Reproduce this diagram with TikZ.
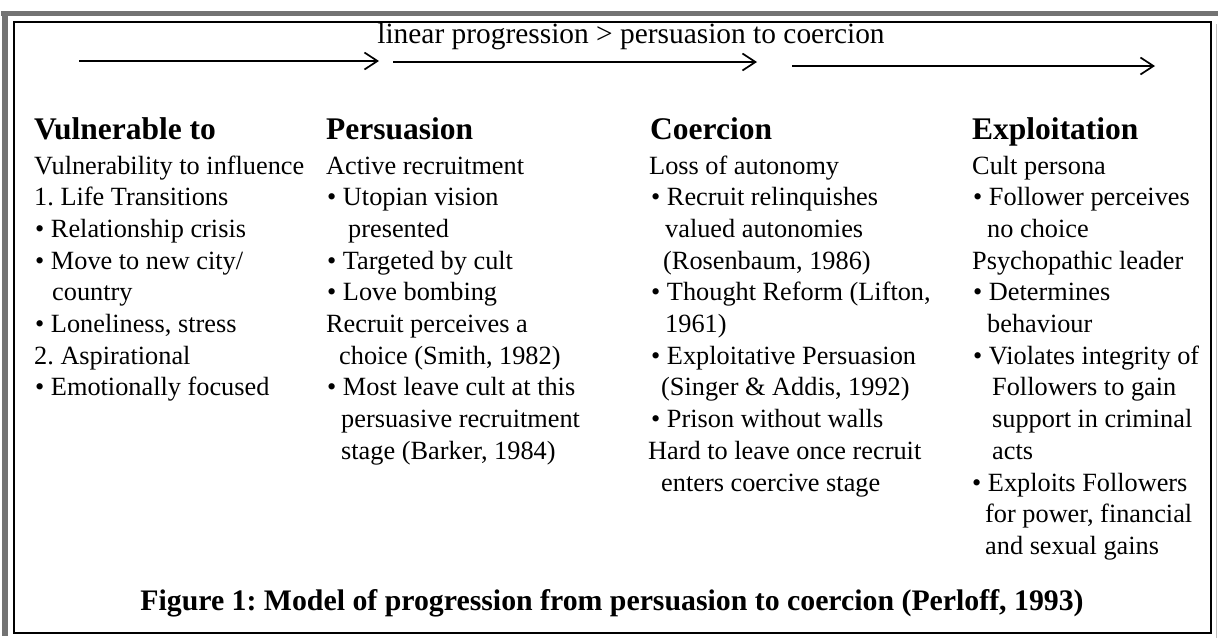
\documentclass[tikz,border=0pt]{standalone}
\usepackage{fontspec}
\setmainfont{Liberation Serif}
\usetikzlibrary{arrows.meta}
\frenchspacing
\begin{document}
\begin{tikzpicture}[x=1pt,y=-1pt,
  body/.style={anchor=base west, inner sep=0pt, font=\fontsize{26.3}{31.7}\selectfont},
  head/.style={anchor=base west, inner sep=0pt, font=\bfseries\fontsize{31.5}{36}\selectfont},
  titletext/.style={anchor=base, inner sep=0pt, font=\fontsize{29.4}{34}\selectfont},
  captiontext/.style={anchor=base, inner sep=0pt, font=\bfseries\fontsize{29.8}{34}\selectfont},
  flow/.style={line width=2pt, -{Straight Barb[length=13pt,width=17pt,line width=1.7pt]}},
  shadowband/.style={fill=black!55},
  framebox/.style={draw=black, line width=1.6pt}]
\useasboundingbox (0,0) rectangle (1218,638);
% frame
\fill[shadowband] (1,11) rectangle (1218,16);
\fill[shadowband] (2,11) rectangle (8,636);
\draw[black!25, line width=1pt] (1216,24) -- (1216,638);
\draw[framebox] (14,22) rectangle (1211,633);
% title and arrows
\node[titletext] (title) at (631,43) {linear progression > persuasion to coercion};
\coordinate (a1s) at (79,61);  \coordinate (a1e) at (379,61);
\coordinate (a2s) at (393,62); \coordinate (a2e) at (757,62);
\coordinate (a3s) at (792,66); \coordinate (a3e) at (1155,66);
\draw[flow] (a1s) -- (a1e);
\draw[flow] (a2s) -- (a2e);
\draw[flow] (a3s) -- (a3e);
% headings
\node[head] (h1) at (34,139) {Vulnerable to};
\node[head] (h2) at (326,139) {Persuasion};
\node[head] (h3) at (650,139) {Coercion};
\node[head] (h4) at (972,139) {Exploitation};
% column 1
\foreach \dx/\t [count=\i] in {0/{Vulnerability to influence}, 0/{1. Life Transitions},
  1/{• Relationship crisis}, 1/{• Move to new city/}, 18/{country},
  1/{• Loneliness, stress}, 0/{2. Aspirational}, 1/{• Emotionally focused}}
  \node[body] (c1-\i) at ({34+\dx},{174+31.7*(\i-1)}) {\t};
% column 2
\foreach \dx/\t [count=\i] in {0/{Active recruitment}, 1/{• Utopian vision},
  22/{presented}, 1/{• Targeted by cult}, 1/{• Love bombing},
  0/{Recruit perceives a}, 13/{choice (Smith, 1982)}, 1/{• Most leave cult at this},
  15/{persuasive recruitment}, 15/{stage (Barker, 1984)}}
  \node[body] (c2-\i) at ({326+\dx},{174+31.7*(\i-1)}) {\t};
% column 3
\foreach \dx/\t [count=\i] in {0/{Loss of autonomy}, 2/{• Recruit relinquishes},
  16/{valued autonomies}, 14/{(Rosenbaum, 1986)}, 2/{• Thought Reform (Lifton,},
  16/{1961)}, 2/{• Exploitative Persuasion}, 12/{(Singer \& Addis, 1992)},
  2/{• Prison without walls}, -1/{Hard to leave once recruit}, 12/{enters coercive stage}}
  \node[body] (c3-\i) at ({649+\dx},{174+31.7*(\i-1)}) {\t};
% column 4
\foreach \dx/\t [count=\i] in {0/{Cult persona}, 1/{• Follower perceives},
  15/{no choice}, 0/{Psychopathic leader}, 1/{• Determines}, 15/{behaviour},
  1/{• Violates integrity of}, 20/{Followers to gain}, 20/{support in criminal},
  20/{acts}, 0/{• Exploits Followers}, 13/{for power, financial}, 13/{and sexual gains}}
  \node[body] (c4-\i) at ({972+\dx},{174+31.7*(\i-1)}) {\t};
% caption
\node[captiontext] (caption) at (612,610) {Figure 1: Model of progression from persuasion to coercion (Perloff, 1993)};
\end{tikzpicture}
\end{document}
